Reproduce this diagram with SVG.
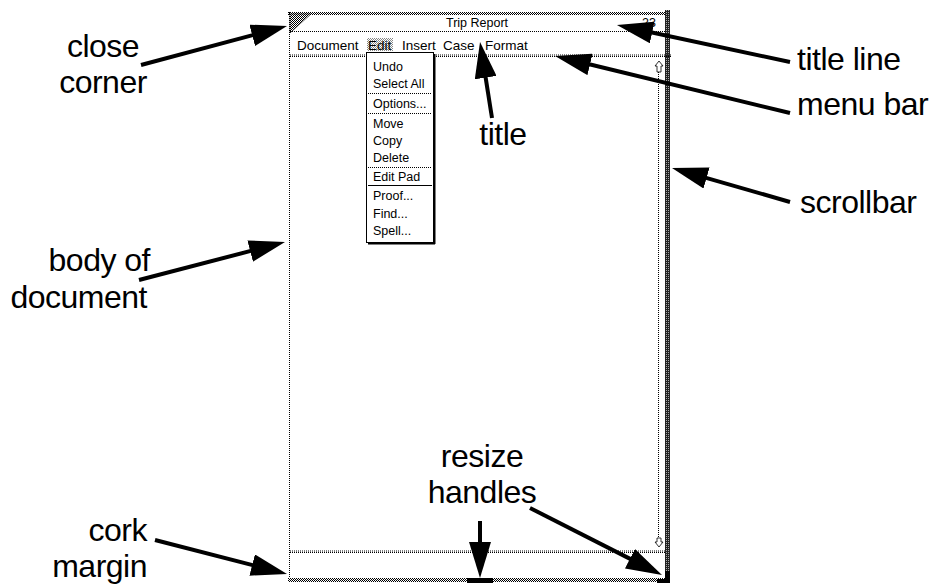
<svg xmlns="http://www.w3.org/2000/svg" width="937" height="585" viewBox="0 0 937 585">
<defs>
<pattern id="dith" width="2" height="2" patternUnits="userSpaceOnUse">
<rect width="2" height="2" fill="#fff"/><rect width="1" height="1" fill="#000"/><rect x="1" y="1" width="1" height="1" fill="#000"/>
</pattern>
<pattern id="light" width="2" height="2" patternUnits="userSpaceOnUse">
<rect width="2" height="2" fill="#fff"/><rect width="1" height="1" fill="#888"/><rect x="1" y="1" width="1" height="1" fill="#888"/>
</pattern>
<pattern id="dark" width="2" height="2" patternUnits="userSpaceOnUse">
<rect width="2" height="2" fill="#222"/><rect width="1" height="1" fill="#aaa"/>
</pattern>
<marker id="ah" markerUnits="userSpaceOnUse" viewBox="0 0 36 22" refX="24" refY="11" markerWidth="36" markerHeight="22" orient="auto">
<path d="M0,0 L36,11 L0,22 Z" fill="#000"/>
</marker>
<style>
.lbl{font-family:"Liberation Sans",Arial,sans-serif;font-size:32px;letter-spacing:-0.5px;fill:#000}
.ui{font-family:"Liberation Sans",Arial,sans-serif;font-size:12.5px;fill:#000}
.mb{font-size:13.5px}
.dot{stroke:#000;stroke-width:1;stroke-dasharray:1 1;fill:none}
.arr{stroke:#000;stroke-width:4;fill:none;marker-end:url(#ah)}
</style>
</defs>
<rect width="937" height="585" fill="#fff"/>

<g id="window">
<rect x="288" y="12" width="380" height="3" fill="url(#dith)"/>
<line class="dot" x1="289.5" y1="12" x2="289.5" y2="582"/>
<rect x="665" y="10" width="5" height="570" fill="url(#dark)"/>
<rect x="288" y="578" width="380" height="4" fill="url(#dith)"/>
<path d="M290,14 L311,14 L290,33 Z" fill="url(#dith)" stroke="#000" stroke-width="0.5"/>
<line class="dot" x1="290" y1="31.5" x2="665" y2="31.5"/>
<text class="ui" x="477" y="27" text-anchor="middle" font-size="13">Trip Report</text>
<text class="ui" x="642" y="27" font-size="13">23</text>
</g>

<g id="menubar">
<line class="dot" x1="290" y1="56.5" x2="672" y2="56.5"/>
<line class="dot" x1="290" y1="55" x2="672" y2="55"/>
<text class="ui mb" x="297" y="50">Document</text>
<rect x="367" y="38" width="26" height="13" fill="url(#light)"/>
<text class="ui mb" x="368" y="50">Edit</text>
<text class="ui mb" x="402" y="50">Insert</text>
<text class="ui mb" x="443" y="50">Case</text>
<text class="ui mb" x="485" y="50">Format</text>
</g>

<g id="editmenu">
<rect x="366.5" y="52.5" width="67" height="190" fill="#fff" stroke="#000" stroke-width="1"/>
<line x1="434.5" y1="54" x2="434.5" y2="244" stroke="#000" stroke-width="2"/>
<line x1="368" y1="243.5" x2="435" y2="243.5" stroke="#000" stroke-width="2"/>
<text class="ui" x="373" y="71">Undo</text>
<text class="ui" x="373" y="88">Select All</text>
<line class="dot" x1="368" y1="93.5" x2="432" y2="93.5"/>
<text class="ui" x="373" y="108">Options...</text>
<line class="dot" x1="368" y1="113.5" x2="432" y2="113.5"/>
<text class="ui" x="373" y="128">Move</text>
<text class="ui" x="373" y="145">Copy</text>
<text class="ui" x="373" y="162">Delete</text>
<line class="dot" x1="368" y1="167.5" x2="432" y2="167.5"/>
<text class="ui" x="373" y="181">Edit Pad</text>
<line x1="368" y1="185.5" x2="432" y2="185.5" stroke="#000" stroke-width="1"/>
<text class="ui" x="373" y="200">Proof...</text>
<text class="ui" x="373" y="218">Find...</text>
<text class="ui" x="373" y="235">Spell...</text>
</g>

<g id="scrollbar">
<line class="dot" x1="658.5" y1="72" x2="658.5" y2="540"/>
<path d="M659,61 L663,66 L661,66 L661,72 L657,72 L657,66 L655,66 Z" fill="#fff" stroke="#000" stroke-width="0.8"/>
<path d="M659,547 L663,542 L661,542 L661,538 L657,538 L657,542 L655,542 Z" fill="#fff" stroke="#000" stroke-width="0.8"/>
</g>

<g id="cork">
<line class="dot" x1="290" y1="552.5" x2="665" y2="552.5"/>
<line class="dot" x1="290" y1="551" x2="665" y2="551"/>
</g>

<g id="handles">
<rect x="467" y="578" width="26" height="5" fill="#000"/>
<rect x="665" y="571" width="5" height="12" fill="#000"/>
<rect x="657" y="579" width="13" height="4" fill="#000"/>
</g>

<g id="labels">
<text class="lbl" x="103" y="57" text-anchor="middle">close</text>
<text class="lbl" x="103" y="93" text-anchor="middle">corner</text>
<text class="lbl" x="150" y="271" text-anchor="end">body of</text>
<text class="lbl" x="147" y="308" text-anchor="end">document</text>
<text class="lbl" x="147" y="541" text-anchor="end">cork</text>
<text class="lbl" x="147" y="577" text-anchor="end">margin</text>
<text class="lbl" x="797" y="70">title line</text>
<text class="lbl" x="797" y="115">menu bar</text>
<text class="lbl" x="800" y="213">scrollbar</text>
<text class="lbl" x="503" y="145" text-anchor="middle">title</text>
<text class="lbl" x="482" y="467" text-anchor="middle">resize</text>
<text class="lbl" x="482" y="503" text-anchor="middle">handles</text>
</g>

<g id="connectors">
<line class="arr" x1="141" y1="65" x2="275.4" y2="29.1"/>
<line class="arr" x1="139" y1="280" x2="273.4" y2="245"/>
<line class="arr" x1="155" y1="540" x2="275.4" y2="571"/>
<line class="arr" x1="790" y1="62" x2="628.7" y2="27.5"/>
<line class="arr" x1="790" y1="113" x2="566.7" y2="58.8"/>
<line class="arr" x1="790" y1="202" x2="683.5" y2="171.3"/>
<line class="arr" x1="492" y1="118" x2="481.9" y2="53.9"/>
<line class="arr" x1="480" y1="521" x2="480" y2="566"/>
<line class="arr" x1="530" y1="508" x2="651.3" y2="569.6"/>
</g>
</svg>
